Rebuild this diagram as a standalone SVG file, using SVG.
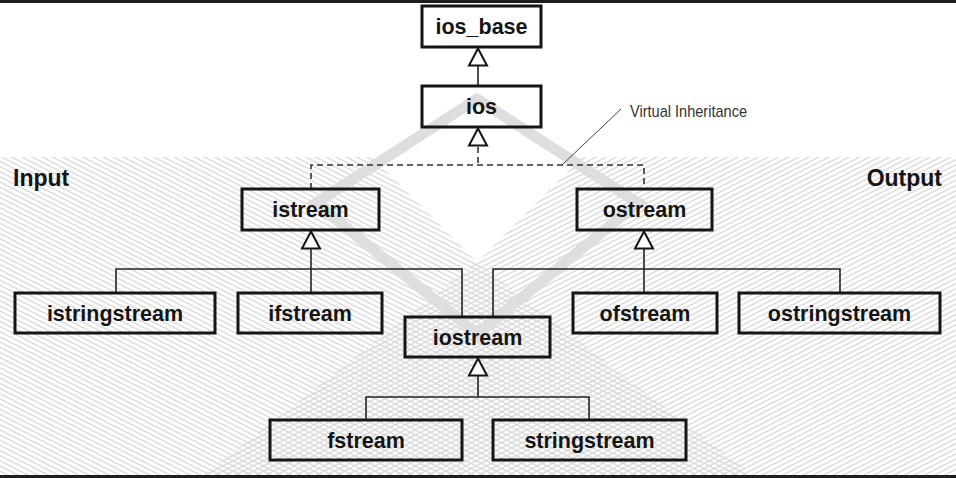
<svg xmlns="http://www.w3.org/2000/svg" xmlns:xlink="http://www.w3.org/1999/xlink" width="956" height="478" viewBox="0 0 956 478">
<style>
.box{fill:none;stroke:#151515;stroke-width:3}
.lbl{font-family:"Liberation Sans",Arial,sans-serif;font-weight:bold;font-size:21.5px;fill:#151515;text-anchor:middle}
.side{font-family:"Liberation Sans",Arial,sans-serif;font-weight:bold;font-size:23px;fill:#151515}
.ln{fill:none;stroke:#222;stroke-width:1.6}
.dash{fill:none;stroke:#333;stroke-width:1.6;stroke-dasharray:6 4}
.tri{fill:#fff;stroke:#151515;stroke-width:2;stroke-linejoin:miter}
</style>
<defs>
<pattern id="hL" patternUnits="userSpaceOnUse" width="12" height="4.6" patternTransform="rotate(27)">
<line x1="0" y1="1.2" x2="12" y2="1.2" stroke="#d6d6d6" stroke-width="1.3"/>
</pattern>
<pattern id="hR" patternUnits="userSpaceOnUse" width="12" height="4.6" patternTransform="rotate(-27)">
<line x1="0" y1="1.2" x2="12" y2="1.2" stroke="#d6d6d6" stroke-width="1.3"/>
</pattern>
<polygon id="tri" points="0,0 -9,17 9,17"/>
</defs>
<rect x="0" y="0" width="956" height="478" fill="#fff"/>
<g id="background">
<polygon points="0,157 372,157 477,262 756,478 0,478" fill="url(#hL)"/>
<polygon points="956,157 582,157 477,262 200,478 956,478" fill="url(#hR)"/>
<polygon points="477,99 316,203 477,334 638,203" fill="none" stroke="#dedede" stroke-width="11" stroke-linejoin="miter"/>
<rect x="0" y="0" width="956" height="3" fill="#1e1e1e"/>
<rect x="0" y="475" width="956" height="3" fill="#1e1e1e"/>
</g>
<g id="connectors">
<line class="ln" x1="478" y1="66" x2="478" y2="86"/>
<use href="#tri" class="tri" x="478" y="48.5"/>
<polyline class="dash" points="478,147 478,165"/>
<polyline class="dash" points="311,189 311,165 644,165 644,189"/>
<use href="#tri" class="tri" x="478" y="128.5"/>
<polyline class="ln" points="116,293 116,269 462,269 462,317"/>
<line class="ln" x1="311" y1="249" x2="311" y2="293"/>
<use href="#tri" class="tri" x="311" y="231.5"/>
<polyline class="ln" points="493,317 493,269 840,269 840,293"/>
<line class="ln" x1="644" y1="249" x2="644" y2="293"/>
<use href="#tri" class="tri" x="644" y="231.5"/>
<polyline class="ln" points="366,420 366,397 589,397 589,420"/>
<line class="ln" x1="478" y1="376" x2="478" y2="397"/>
<use href="#tri" class="tri" x="478" y="358.5"/>
<line x1="621" y1="109" x2="562" y2="165" stroke="#444" stroke-width="1"/>
</g>
<g id="ios_base"><rect class="box" x="422" y="6" width="119" height="41"/><text class="lbl" x="481.5" y="34">ios_base</text></g>
<g id="ios"><rect class="box" x="422" y="86" width="119" height="41"/><text class="lbl" x="481.5" y="114">ios</text></g>
<g id="istream"><rect class="box" x="242" y="189" width="137" height="41"/><text class="lbl" x="310.5" y="217">istream</text></g>
<g id="ostream"><rect class="box" x="577" y="189" width="135" height="41"/><text class="lbl" x="644.5" y="217">ostream</text></g>
<g id="istringstream"><rect class="box" x="15" y="293" width="200" height="40"/><text class="lbl" x="115" y="320.5">istringstream</text></g>
<g id="ifstream"><rect class="box" x="238" y="293" width="144" height="40"/><text class="lbl" x="310" y="320.5">ifstream</text></g>
<g id="iostream"><rect class="box" x="405" y="317" width="145" height="40"/><text class="lbl" x="477.5" y="344.5">iostream</text></g>
<g id="ofstream"><rect class="box" x="573" y="293" width="144" height="40"/><text class="lbl" x="645" y="320.5">ofstream</text></g>
<g id="ostringstream"><rect class="box" x="739" y="293" width="201" height="40"/><text class="lbl" x="839.5" y="320.5">ostringstream</text></g>
<g id="fstream"><rect class="box" x="270" y="420" width="192" height="40"/><text class="lbl" x="366" y="447.5">fstream</text></g>
<g id="stringstream"><rect class="box" x="493" y="420" width="193" height="40"/><text class="lbl" x="589.5" y="447.5">stringstream</text></g>
<g id="labels">
<text class="side" x="13" y="186">Input</text>
<text class="side" x="942" y="186" text-anchor="end">Output</text>
<text x="630" y="117" font-family="'Liberation Sans',Arial,sans-serif" font-size="17" fill="#333" textLength="117" lengthAdjust="spacingAndGlyphs">Virtual Inheritance</text>
</g>
</svg>
